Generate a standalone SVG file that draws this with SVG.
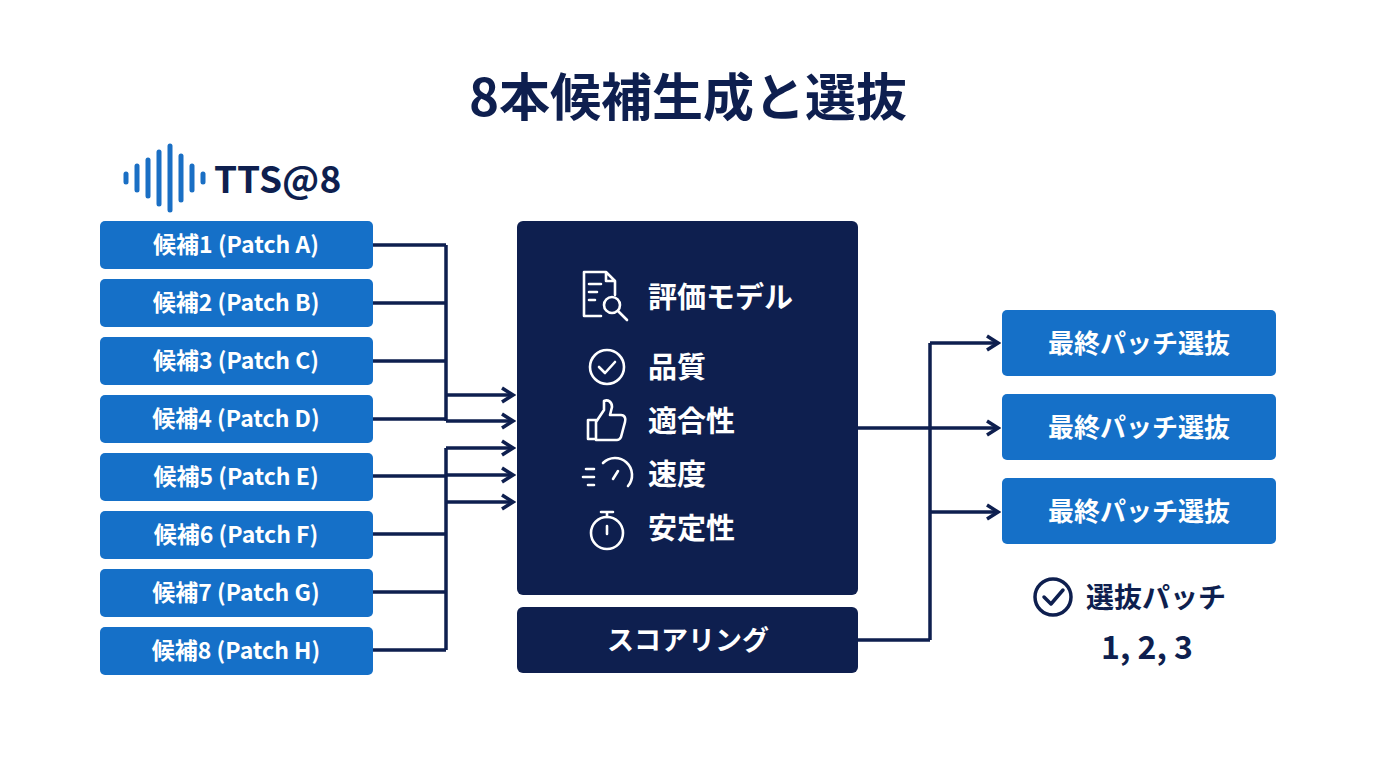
<svg xmlns="http://www.w3.org/2000/svg" width="1376" height="768" viewBox="0 0 1376 768">
<style>
text{font-family:"Noto Sans CJK JP","Noto Sans",sans-serif;font-weight:bold}
.cand rect{fill:#1570c8}
.cand text{fill:#fff;font-size:23px;text-anchor:middle}
.sel rect{fill:#1570c8}
.sel text{fill:#fff;font-size:26px;text-anchor:middle}
.dark{fill:#0e1f4f}
.wt{fill:#fff;font-size:29px}
.ic{fill:none;stroke:#fff;stroke-width:2.6;stroke-linecap:round;stroke-linejoin:round}
.ln{fill:none;stroke:#0e1f4f;stroke-width:3.5}
</style>
<defs><marker id="a" markerWidth="16" markerHeight="18" refX="13" refY="9" orient="auto" markerUnits="userSpaceOnUse"><path d="M2,2 L13,9 L2,16" fill="none" stroke="#0e1f4f" stroke-width="3.5"/></marker></defs>
<rect width="1376" height="768" fill="#fff"/>
<text x="688" y="116" text-anchor="middle" font-size="51" fill="#0e1f4f">8本候補生成と選抜</text>
<g id="logo">
<g stroke="#1a6fc4" stroke-width="5" stroke-linecap="round">
<line x1="126" y1="174" x2="126" y2="182"/><line x1="137" y1="166" x2="137" y2="190"/><line x1="148" y1="160" x2="148" y2="196"/><line x1="159" y1="152" x2="159" y2="204"/><line x1="170" y1="146" x2="170" y2="210"/><line x1="181" y1="156" x2="181" y2="200"/><line x1="192" y1="166" x2="192" y2="190"/><line x1="203" y1="174" x2="203" y2="182"/></g>
<text x="214" y="193" font-size="37" fill="#0e1f4f" font-family="'Noto Sans',sans-serif">TTS@8</text>
</g>
<g class="cand">
<g id="c1"><rect x="100" y="221" width="273" height="48" rx="5"/><text x="236" y="253">候補1 (Patch A)</text></g>
<g id="c2"><rect x="100" y="279" width="273" height="48" rx="5"/><text x="236" y="311">候補2 (Patch B)</text></g>
<g id="c3"><rect x="100" y="337" width="273" height="48" rx="5"/><text x="236" y="369">候補3 (Patch C)</text></g>
<g id="c4"><rect x="100" y="395" width="273" height="48" rx="5"/><text x="236" y="427">候補4 (Patch D)</text></g>
<g id="c5"><rect x="100" y="453" width="273" height="48" rx="5"/><text x="236" y="485">候補5 (Patch E)</text></g>
<g id="c6"><rect x="100" y="511" width="273" height="48" rx="5"/><text x="236" y="543">候補6 (Patch F)</text></g>
<g id="c7"><rect x="100" y="569" width="273" height="48" rx="5"/><text x="236" y="601">候補7 (Patch G)</text></g>
<g id="c8"><rect x="100" y="627" width="273" height="48" rx="5"/><text x="236" y="659">候補8 (Patch H)</text></g>
</g>
<g id="model">
<rect class="dark" x="517" y="221" width="341" height="374" rx="6"/>
<g class="ic">
<path d="M584 272 h22 l9 9 v14 M615 281 h-9 v-9 M601 316 h-17 v-44"/><path d="M589 284 h12 M589 292 h8 M589 300 h6"/><circle cx="612" cy="305" r="8"/><path d="M618 311 l9 9"/>
<circle cx="607" cy="367" r="17"/><path d="M599 367 l6 6 l10 -11"/>
<path d="M588 420 h8 v19 h-8 z M596 422 l8 -12 v-9 c4 -2 8 1 8 6 l-2 8 h11 c4 0 5 4 4 7 l-4 15 c-1 2 -2 3 -4 3 h-21"/>
<path d="M586 469 h8 M583 477 h11 M588 485 h6 M603 463 a17 17 0 0 1 25 23 M618 471 l-5 8"/>
<circle cx="607" cy="533" r="16"/><path d="M601 512 h12 M607 512 v5 M607 526 v8"/>
</g>
<text class="wt" x="648" y="308">評価モデル</text>
<text class="wt" x="648" y="378">品質</text>
<text class="wt" x="648" y="432">適合性</text>
<text class="wt" x="648" y="485">速度</text>
<text class="wt" x="648" y="539">安定性</text>
</g>
<g id="scoring"><rect class="dark" x="517" y="607" width="341" height="66" rx="6"/><text x="688" y="650" text-anchor="middle" font-size="27" fill="#fff">スコアリング</text></g>
<g class="sel">
<g id="s1"><rect x="1002" y="310" width="274" height="66" rx="5"/><text x="1139" y="353">最終パッチ選抜</text></g>
<g id="s2"><rect x="1002" y="394" width="274" height="66" rx="5"/><text x="1139" y="437">最終パッチ選抜</text></g>
<g id="s3"><rect x="1002" y="478" width="274" height="66" rx="5"/><text x="1139" y="521">最終パッチ選抜</text></g>
</g>
<g id="result">
<circle cx="1053" cy="597" r="18" fill="none" stroke="#0e1f4f" stroke-width="3.5"/><path d="M1044 597 l7 7 l12 -14" fill="none" stroke="#0e1f4f" stroke-width="3.5" stroke-linecap="round" stroke-linejoin="round"/>
<text x="1086" y="608" font-size="28" fill="#0e1f4f">選抜パッチ</text>
<text x="1147" y="659" font-size="32" fill="#0e1f4f" text-anchor="middle" font-family="'Noto Sans',sans-serif">1, 2, 3</text>
</g>
<g id="connectors" class="ln">
<path d="M373 245 H446 M373 303 H446 M373 361 H446 M373 419 H446 M446 245 V421"/>
<path d="M446 395 H513" marker-end="url(#a)"/><path d="M446 421 H513" marker-end="url(#a)"/>
<path d="M373 476 H446 M373 534 H446 M373 592 H446 M373 650 H446 M446 448 V650"/>
<path d="M446 448 H513" marker-end="url(#a)"/><path d="M446 475 H513" marker-end="url(#a)"/><path d="M446 502 H513" marker-end="url(#a)"/>
<path d="M858 428 H930 M858 640 H930 M930 343 V640"/>
<path d="M930 343 H998" marker-end="url(#a)"/><path d="M930 428 H998" marker-end="url(#a)"/><path d="M930 512 H998" marker-end="url(#a)"/>
</g>
</svg>
